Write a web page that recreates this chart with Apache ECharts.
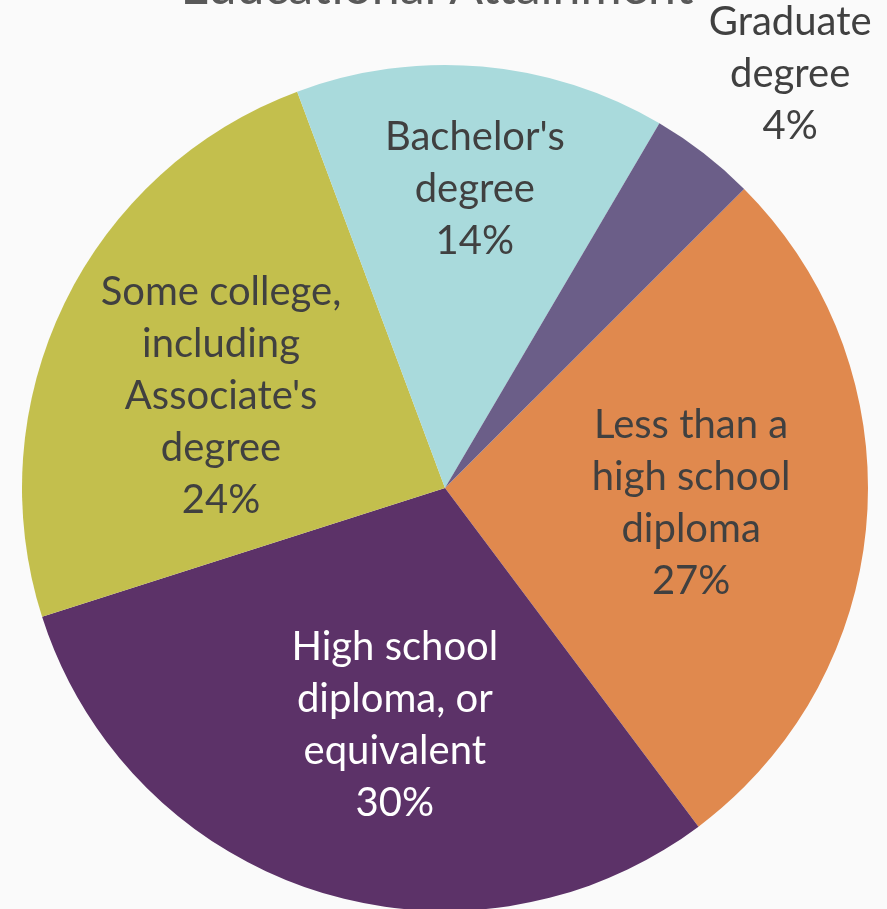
<!DOCTYPE html>
<html>
<head>
<meta charset="utf-8">
<script src="https://cdn.jsdelivr.net/npm/echarts@6/dist/echarts.min.js"></script>
<style>
  html, body { margin: 0; padding: 0; background: #fafafa; }
  #chart { width: 887px; height: 909px; }
</style>
</head>
<body>
<div id="chart"></div>
<script>
// Educational attainment shares (percent), clockwise from the upper right
const categories = [
  'Less than a\nhigh school\ndiploma',
  'High school\ndiploma, or\nequivalent',
  'Some college,\nincluding\nAssociate\'s\ndegree',
  'Bachelor\'s\ndegree',
  'Graduate\ndegree'
];
const shares = [27, 30, 24, 14, 4];
const titleText = 'Educational Attainment';

const sliceColors = ['#e0894e', '#5c3268', '#c3bf4d', '#a9dadc', '#6b5e88'];
const labelColors = ['#404040', '#ffffff', '#404040', '#404040', '#404040'];

// pie geometry
const CX = 445, CY = 488, R = 423, START_DEG = 45; // first slice starts at 45° clockwise from 12 o'clock
// label anchor: distance from centre (fraction of radius) and a small turn off the slice's mid angle
const labelReach = [0.583, 0.574, 0.572, 0.71, 1.274];
const labelTurn = [-0.5, -5.8, -3.7, 0.7, 2.1];

const total = shares.reduce((a, b) => a + b, 0);
function midAngle(i) {
  let acc = 0;
  for (let k = 0; k < i; k++) acc += shares[k];
  return START_DEG + (acc + shares[i] / 2) / total * 360;
}

const FONT = 'Lato';
const chart = echarts.init(document.getElementById('chart'), null, { renderer: 'canvas' });
chart.setOption({
  backgroundColor: '#fafafa',
  animation: false,
  title: {
    text: titleText,
    left: 437,
    textAlign: 'center',
    top: -37,
    padding: 0,
    textStyle: { fontFamily: FONT, fontSize: 50, fontWeight: 'normal', color: '#595959' }
  },
  series: [{
    type: 'pie',
    center: [CX, CY],
    radius: [0, R],
    startAngle: 90 - START_DEG,
    clockwise: true,
    avoidLabelOverlap: false,
    silent: true,
    itemStyle: { borderWidth: 0 },
    label: {
      show: true,
      position: 'inside',
      fontFamily: FONT,
      fontSize: 40,
      lineHeight: 52,
      align: 'center',
      formatter: p => p.name + '\n' + p.value + '%'
    },
    labelLine: { show: false },
    labelLayout: function (p) {
      const i = p.dataIndex;
      const a = (midAngle(i) + labelTurn[i]) * Math.PI / 180;
      const d = labelReach[i] * R;
      return {
        x: CX + d * Math.sin(a),
        y: CY - d * Math.cos(a),
        align: 'center',
        verticalAlign: 'middle'
      };
    },
    data: categories.map((name, i) => ({
      name: name,
      value: shares[i],
      itemStyle: { color: sliceColors[i] },
      label: { color: labelColors[i] }
    }))
  }]
});
</script>
</body>
</html>
